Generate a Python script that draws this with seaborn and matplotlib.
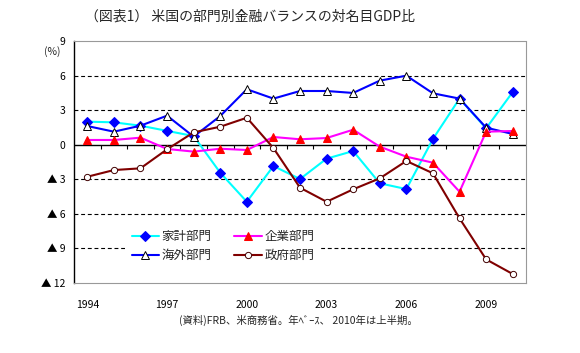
import numpy as np
import pandas as pd
import matplotlib
matplotlib.use("Agg")
import matplotlib.pyplot as plt
import seaborn as sns

# データ（図から読み取り、単位：対名目GDP比 %）
years = list(range(1994, 2011))
household = [2.0, 1.94, 1.65, 1.2, 0.75, -2.43, -4.95, -1.85, -2.98, -1.21,
             -0.55, -3.35, -3.85, 0.5, 4.0, 1.42, 4.57]
corporate = [0.41, 0.41, 0.61, -0.37, -0.6, -0.35, -0.46, 0.67, 0.47, 0.58,
             1.3, -0.17, -1.04, -1.56, -4.08, 1.13, 1.19]
overseas = [1.62, 1.13, 1.65, 2.52, 0.7, 2.49, 4.81, 4.0, 4.66, 4.66,
            4.49, 5.56, 5.99, 4.46, 4.0, 1.48, 0.93]
government = [-2.78, -2.2, -2.05, -0.4, 1.07, 1.56, 2.34, -0.29, -3.73, -4.95,
              -3.87, -2.92, -1.41, -2.48, -6.39, -9.95, -11.22]

ytick_vals = [9, 6, 3, 0, -3, -6, -9, -12]
ytick_labels = ['9', '6', '3', '0', '▲ 3', '▲ 6', '▲ 9', '▲ 12']
xtick_years = [1994, 1997, 2000, 2003, 2006, 2009]

title = '（図表1） 米国の部門別金融バランスの対名目GDP比'
source = '(資料)FRB、米商務省。年ﾍﾞｰｽ、 2010年は上半期。'

df = pd.DataFrame({'year': years, 'household': household, 'corporate': corporate,
                   'overseas': overseas, 'government': government})

sns.set_style('white')
plt.rcParams['font.family'] = ['Noto Sans CJK JP', 'DejaVu Sans']

fig = plt.figure(figsize=(5.8, 3.53), dpi=100)
ax = fig.add_axes([0.1276, 0.1983, 0.7793, 0.6856])

# 補助線
for v in [6, 3, -3, -6, -9]:
    ax.axhline(v, color='black', lw=0.8, ls=(0, (3.5, 2.5)), zorder=1)
ax.axhline(0, color='black', lw=1.0, zorder=2)
# ゼロ線上の目盛り
bounds = np.arange(years[0] + 0.5, years[-1], 1.0)
ax.vlines(bounds, 0, -0.35, color='black', lw=0.8, zorder=2)

sns.lineplot(data=df, x='year', y='household', ax=ax, color='#00FFFF', lw=1.5,
             marker='D', markersize=5, markerfacecolor='#0000FF',
             markeredgecolor='#0000FF', label='家計部門', zorder=4)
sns.lineplot(data=df, x='year', y='overseas', ax=ax, color='#0000FF', lw=1.5,
             marker='^', markersize=6, markerfacecolor='white',
             markeredgecolor='black', markeredgewidth=0.7, label='海外部門', zorder=4)
sns.lineplot(data=df, x='year', y='corporate', ax=ax, color='#FF00FF', lw=1.5,
             marker='^', markersize=6, markerfacecolor='#FF0000',
             markeredgecolor='#FF0000', label='企業部門', zorder=4)
sns.lineplot(data=df, x='year', y='government', ax=ax, color='#800000', lw=1.5,
             marker='o', markersize=4.5, markerfacecolor='white',
             markeredgecolor='#400000', markeredgewidth=0.7, label='政府部門', zorder=4)

ax.set_xlim(years[0] - 0.5, years[-1] + 0.5)
ax.set_ylim(-12, 9)
ax.set_yticks(ytick_vals)
ax.set_yticklabels(ytick_labels)
ax.set_xticks(xtick_years)
ax.set_xticklabels([str(y) for y in xtick_years])
ax.tick_params(axis='both', length=0, labelsize=7.5, colors='black')
ax.tick_params(axis='x', pad=12)
ax.tick_params(axis='y', pad=6)
ax.set_xlabel('')
ax.set_ylabel('')

for s in ['top', 'right', 'bottom']:
    ax.spines[s].set_color('#999999')
    ax.spines[s].set_linestyle((0, (1, 1)))
    ax.spines[s].set_linewidth(0.8)
ax.spines['left'].set_color('black')
ax.spines['left'].set_linewidth(1.0)

ax.text(-0.03, 8.1, '(%)', transform=ax.get_yaxis_transform(), ha='right',
        va='center', fontsize=7.5)

leg = ax.legend(loc='upper left', bbox_to_anchor=(0.1, 0.27), ncol=2,
                fontsize=9, frameon=True, handlelength=2.2, handletextpad=0.2,
                columnspacing=1.8, labelspacing=0.5, borderpad=0.5)
leg.get_frame().set_facecolor('white')
leg.get_frame().set_edgecolor('none')
leg.get_frame().set_alpha(1)
leg.set_zorder(5)

fig.text(0.431, 0.952, title, ha='center', va='center', fontsize=10)
fig.text(0.514, 0.093, source, ha='center', va='center', fontsize=7.5)

fig.savefig('out.png', dpi=100, facecolor='white')
